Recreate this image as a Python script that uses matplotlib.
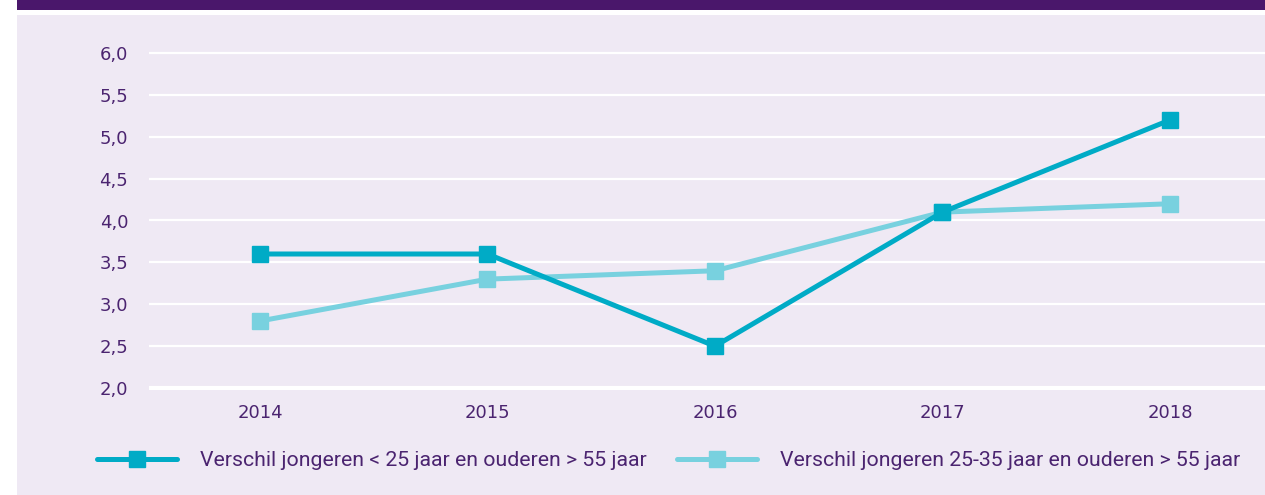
import matplotlib.pyplot as plt
from matplotlib.patches import Rectangle
from matplotlib.ticker import FuncFormatter

years = [2014, 2015, 2016, 2017, 2018]
under25 = [3.6, 3.6, 2.5, 4.1, 5.2]
age25_35 = [2.8, 3.3, 3.4, 4.1, 4.2]
labels = ['Verschil jongeren < 25 jaar en ouderen > 55 jaar',
          'Verschil jongeren 25-35 jaar en ouderen > 55 jaar']
yticks = [2.0, 2.5, 3.0, 3.5, 4.0, 4.5, 5.0, 5.5, 6.0]

purple = '#4a176b'
text_col = '#4b2470'
bg = '#efe9f4'
dark = '#00abc6'
light = '#78d1df'

W, H = 1265, 495
fig = plt.figure(figsize=(W / 100, H / 100), dpi=100)
fig.patch.set_facecolor('white')
fig.add_artist(Rectangle((17 / W, 1 - 10 / H), 1, 10 / H, transform=fig.transFigure,
                         facecolor=purple, edgecolor='none', zorder=0))
fig.add_artist(Rectangle((17 / W, 0), 1, 1 - 15 / H, transform=fig.transFigure,
                         facecolor=bg, edgecolor='none', zorder=0))

# axes placement in pixels
y0, y1 = 1.98, 6.02
ppu = (388 - 53) / 4.0
top_px = 53 - (y1 - 6.0) * ppu
bot_px = 388 + (2.0 - y0) * ppu
ax = fig.add_axes([149 / W, 1 - bot_px / H, 1 - 149 / W, (bot_px - top_px) / H])
ax.set_facecolor('none')
ax.set_ylim(y0, y1)
ax.set_xlim(2014 - 111 / 227.5, 2018 + 95 / 227.5)

for v in yticks:
    ax.axhline(v, color='white', lw=3 if v == 2.0 else 1.6, zorder=1)

ax.plot(years, under25, color=dark, lw=3.6, marker='s', ms=12, label=labels[0], zorder=3)
ax.plot(years, age25_35, color=light, lw=3.6, marker='s', ms=12, label=labels[1], zorder=2)

ax.set_yticks(yticks)
ax.yaxis.set_major_formatter(FuncFormatter(lambda v, p: f'{v:.1f}'.replace('.', ',')))
ax.set_xticks(years)
ax.tick_params(axis='y', length=0, pad=15, labelsize=13, labelcolor=text_col)
ax.tick_params(axis='x', length=0, pad=10, labelsize=13, labelcolor=text_col)
for lab in ax.get_xticklabels() + ax.get_yticklabels():
    lab.set_fontfamily('DejaVu Sans')
for s in ax.spines.values():
    s.set_visible(False)

leg = fig.legend(loc='center left', bbox_to_anchor=(97 / W, 1 - 461 / H), ncol=2, frameon=False,
                 borderpad=0, borderaxespad=0, handlelength=3.75, handletextpad=1.08,
                 columnspacing=1.42, labelcolor=text_col,
                 prop={'family': 'Roboto', 'size': 15.35})
for h in leg.get_lines():
    h.set_solid_capstyle('round')

fig.savefig('out.png', dpi=100)
